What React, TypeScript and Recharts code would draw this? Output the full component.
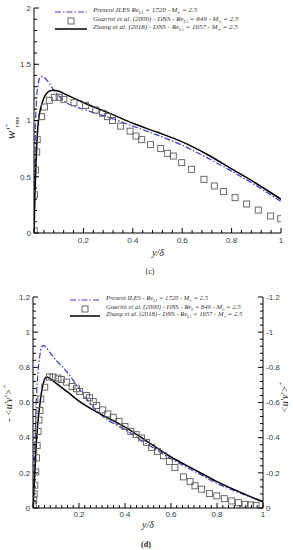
import React from 'react';
import { ComposedChart, Line, Scatter, XAxis, YAxis, Legend } from 'recharts';

// ---------- data: w'+rms (panel c) ----------
const W_ILES: [number, number][] = [
  [0, 0], [0.003, 0.55], [0.006, 0.95], [0.01, 1.18], [0.015, 1.3], [0.02, 1.36], [0.027, 1.39],
  [0.035, 1.39], [0.045, 1.375], [0.055, 1.35], [0.065, 1.32], [0.08, 1.27], [0.1, 1.22],
  [0.13, 1.16], [0.17, 1.12], [0.2, 1.1], [0.27, 1.05], [0.3, 1.03], [0.4, 0.95], [0.5, 0.87],
  [0.6, 0.78], [0.7, 0.67], [0.8, 0.55], [0.9, 0.42], [1.0, 0.28],
];
const W_ZHANG: [number, number][] = [
  [0, 0], [0.004, 0.35], [0.008, 0.62], [0.011, 0.77], [0.017, 0.975], [0.024, 1.08], [0.031, 1.14],
  [0.04, 1.2], [0.051, 1.24], [0.065, 1.265], [0.08, 1.27], [0.1, 1.26], [0.13, 1.23], [0.17, 1.19],
  [0.2, 1.16], [0.27, 1.095], [0.3, 1.07], [0.4, 0.975], [0.5, 0.895], [0.6, 0.81], [0.7, 0.7],
  [0.8, 0.57], [0.9, 0.44], [1.0, 0.3],
];
const W_GUARINI: [number, number][] = [
  [0.001, 0.02], [0.002, 0.34], [0.006, 0.56], [0.011, 0.72], [0.013, 0.83], [0.031, 1.034],
  [0.042, 1.12], [0.062, 1.18], [0.082, 1.206], [0.102, 1.206], [0.121, 1.188], [0.162, 1.158],
  [0.209, 1.135], [0.25, 1.093], [0.278, 1.064], [0.297, 1.034], [0.318, 1.0], [0.351, 0.95],
  [0.389, 0.905], [0.413, 0.862], [0.436, 0.83], [0.472, 0.785], [0.513, 0.75], [0.541, 0.708],
  [0.564, 0.684], [0.598, 0.625], [0.638, 0.566], [0.688, 0.477], [0.73, 0.418], [0.767, 0.368],
  [0.814, 0.314], [0.861, 0.258], [0.908, 0.204], [0.958, 0.151], [0.999, 0.127],
];

// ---------- data: -<u'v'>+ (panel d) ----------
const UV_ILES: [number, number][] = [
  [0, 0], [0.005, 0.2], [0.01, 0.42], [0.014, 0.6], [0.02, 0.74], [0.029, 0.86], [0.036, 0.91],
  [0.045, 0.925], [0.055, 0.915], [0.07, 0.89], [0.085, 0.865], [0.1, 0.84], [0.13, 0.8],
  [0.15, 0.77], [0.2, 0.68], [0.25, 0.59], [0.3, 0.525], [0.4, 0.445], [0.5, 0.36], [0.6, 0.28],
  [0.7, 0.21], [0.8, 0.14], [0.9, 0.085], [1.0, 0.035],
];
const UV_ZHANG: [number, number][] = [
  [0, 0], [0.005, 0.12], [0.01, 0.25], [0.015, 0.38], [0.02, 0.47], [0.029, 0.58], [0.036, 0.65],
  [0.045, 0.71], [0.058, 0.745], [0.07, 0.74], [0.085, 0.725], [0.1, 0.71], [0.15, 0.66],
  [0.2, 0.608], [0.3, 0.53], [0.4, 0.46], [0.5, 0.375], [0.6, 0.29], [0.7, 0.22], [0.8, 0.15],
  [0.9, 0.09], [1.0, 0.035],
];
const UV_GUARINI: [number, number][] = [
  [0.001, 0.02], [0.003, 0.045], [0.005, 0.08], [0.008, 0.13], [0.012, 0.205], [0.015, 0.285],
  [0.018, 0.355], [0.022, 0.435], [0.026, 0.5], [0.03, 0.555], [0.034, 0.62], [0.051, 0.687],
  [0.072, 0.745], [0.087, 0.745], [0.109, 0.739], [0.123, 0.731], [0.145, 0.716], [0.17, 0.691],
  [0.189, 0.678], [0.203, 0.663], [0.232, 0.64], [0.246, 0.627], [0.262, 0.605], [0.277, 0.583],
  [0.303, 0.558], [0.325, 0.535], [0.349, 0.516], [0.374, 0.493], [0.4, 0.463], [0.425, 0.436],
  [0.448, 0.417], [0.472, 0.398], [0.494, 0.373], [0.516, 0.345], [0.541, 0.322], [0.567, 0.297],
  [0.593, 0.265], [0.617, 0.23], [0.654, 0.177], [0.683, 0.15], [0.704, 0.126], [0.733, 0.107],
  [0.767, 0.082], [0.799, 0.069], [0.832, 0.053], [0.864, 0.04], [0.893, 0.03], [0.922, 0.021],
  [0.946, 0.017], [0.97, 0.015],
];

// ---------- ticks ----------
const X_MAJOR = [0.2, 0.4, 0.6, 0.8, 1];
const W_X_TICKS = [0, 0.04, 0.08, 0.12, 0.16, 0.2, 0.24, 0.28, 0.32, 0.36, 0.4, 0.44, 0.48, 0.52, 0.56, 0.6, 0.64, 0.68, 0.72, 0.76, 0.8, 0.84, 0.88, 0.92, 0.96, 1];
const W_Y_MAJOR = [0, 0.5, 1, 1.5, 2];
const W_Y_TICKS = [0, 0.1, 0.2, 0.3, 0.4, 0.5, 0.6, 0.7, 0.8, 0.9, 1, 1.1, 1.2, 1.3, 1.4, 1.5, 1.6, 1.7, 1.8, 1.9, 2];
const UV_X_TICKS = [0, 0.025, 0.05, 0.075, 0.1, 0.125, 0.15, 0.175, 0.2, 0.225, 0.25, 0.275, 0.3, 0.325, 0.35, 0.375, 0.4, 0.425, 0.45, 0.475, 0.5, 0.525, 0.55, 0.575, 0.6, 0.625, 0.65, 0.675, 0.7, 0.725, 0.75, 0.775, 0.8, 0.825, 0.85, 0.875, 0.9, 0.925, 0.95, 0.975, 1];
const UV_Y_MAJOR = [0, 0.2, 0.4, 0.6, 0.8, 1, 1.2];
const UV_Y_TICKS = [0, 0.04, 0.08, 0.12, 0.16, 0.2, 0.24, 0.28, 0.32, 0.36, 0.4, 0.44, 0.48, 0.52, 0.56, 0.6, 0.64, 0.68, 0.72, 0.76, 0.8, 0.84, 0.88, 0.92, 0.96, 1, 1.04, 1.08, 1.12, 1.16, 1.2];

const toPts = (a: [number, number][]) => a.map(([x, y]) => ({ x, y }));

const TICK_FONT = '"Liberation Sans", Arial, sans-serif';
const SERIF = '"Liberation Serif", "Times New Roman", serif';
const TICK_COLOR = '#2e3d48';
const BLUE = '#3b3bcf';
const DASHDOT = '6 2 1.5 2';

const isMajor = (majors: number[], v: number) => majors.some((m) => Math.abs(m - v) < 1e-9);

const leftTick = (majors: number[]) => (p: any) => {
  const v = p.payload.value;
  const mj = isMajor(majors, v);
  return (
    <g>
      <line x1={p.x} x2={p.x + (mj ? 5 : 3)} y1={p.y} y2={p.y} stroke="#000" strokeWidth={1} />
      {mj && (
        <text x={p.x - 3} y={p.y} dy="0.35em" textAnchor="end" fontSize={8} fontFamily={TICK_FONT} fill={TICK_COLOR}>
          {String(v)}
        </text>
      )}
    </g>
  );
};

const rightTick = (majors: number[]) => (p: any) => {
  const v = p.payload.value;
  const mj = isMajor(majors, v);
  return (
    <g>
      <line x1={p.x} x2={p.x - (mj ? 5 : 3)} y1={p.y} y2={p.y} stroke="#000" strokeWidth={1} />
      {mj && (
        <text x={p.x + 3} y={p.y} dy="0.35em" textAnchor="start" fontSize={8} fontFamily={TICK_FONT} fill={TICK_COLOR}>
          {String(-v)}
        </text>
      )}
    </g>
  );
};

const bottomTick = (majors: number[], dy: number) => (p: any) => {
  const v = p.payload.value;
  const mj = isMajor(majors, v);
  const isZero = Math.abs(v) < 1e-9;
  return (
    <g>
      <line x1={p.x} x2={p.x} y1={p.y} y2={p.y - (mj || isZero ? 5 : 3)} stroke="#000" strokeWidth={1} />
      {mj && (
        <text x={p.x} y={p.y + dy} textAnchor="middle" fontSize={8} fontFamily={TICK_FONT} fill={TICK_COLOR}>
          {String(v)}
        </text>
      )}
    </g>
  );
};

const squareShape = (props: any) => (
  <rect x={props.cx - 3} y={props.cy - 3} width={6} height={6} fill="none" stroke="#5a5a5a" strokeWidth={0.9} />
);

type LegendRow = { kind: 'dash' | 'square' | 'solid'; parts: { t: string; sub?: boolean }[] };

const ROWS_C: LegendRow[] = [
  { kind: 'dash', parts: [{ t: 'Present ILES Re' }, { t: 'L1', sub: true }, { t: ' = 1720 - M' }, { t: '∞', sub: true }, { t: ' = 2.5' }] },
  { kind: 'square', parts: [{ t: 'Guarini et al. (2000) - DNS - Re' }, { t: 'L1', sub: true }, { t: ' = 849 - M' }, { t: '∞', sub: true }, { t: ' = 2.5' }] },
  { kind: 'solid', parts: [{ t: 'Zhang et al. (2018) - DNS - Re' }, { t: 'L1', sub: true }, { t: ' = 1657 - M' }, { t: '∞', sub: true }, { t: ' = 2.5' }] },
];
const ROWS_D: LegendRow[] = [
  { kind: 'dash', parts: [{ t: 'Present ILES - Re' }, { t: 'L1', sub: true }, { t: ' = 1720 - M' }, { t: '∞', sub: true }, { t: ' = 2.5' }] },
  { kind: 'square', parts: [{ t: 'Guarini et al. (2000) - DNS - Re' }, { t: 'θ', sub: true }, { t: ' = 849 - M' }, { t: '∞', sub: true }, { t: ' = 2.5' }] },
  { kind: 'solid', parts: [{ t: 'Zhang et al. (2018) - DNS - Re' }, { t: 'L1', sub: true }, { t: ' = 1657 - M' }, { t: '∞', sub: true }, { t: ' = 2.5' }] },
];

const makeLegend = (rows: LegendRow[], ys: number[], x0: number, x1: number, tx: number, fs: number, w: number, h: number) => () => (
  <svg width={w} height={h} style={{ display: 'block' }}>
    {rows.map((r, i) => {
      const y = ys[i];
      const mid = (x0 + x1) / 2;
      return (
        <g key={i}>
          {r.kind === 'dash' && <line x1={x0} x2={x1} y1={y} y2={y} stroke={BLUE} strokeWidth={1.2} strokeDasharray={DASHDOT} />}
          {r.kind === 'solid' && <line x1={x0} x2={x1} y1={y} y2={y} stroke="#000" strokeWidth={1.5} />}
          {r.kind === 'square' && <rect x={mid - 3} y={y - 3} width={6} height={6} fill="none" stroke="#5a5a5a" strokeWidth={0.9} />}
          <text x={tx} y={y} dy="0.3em" fontSize={fs} fontStyle="italic" fontFamily={SERIF} fill="#333">
            {r.parts.map((p, j) =>
              p.sub ? (
                <tspan key={j} fontSize={fs * 0.6} dy={1.5}>{p.t}</tspan>
              ) : (
                <tspan key={j} dy={j === 0 ? 0 : -1.5}>{p.t}</tspan>
              )
            )}
          </text>
        </g>
      );
    })}
  </svg>
);

const LegendC = makeLegend(ROWS_C, [12, 21, 29], 55, 87, 93, 7, 260, 36);
const LegendD = makeLegend(ROWS_D, [25, 34, 41], 70, 100, 106, 6.6, 260, 48);

export default function App() {
  return (
    <div style={{ position: 'absolute', left: 0, top: 0, width: 293, height: 550, background: '#fff' }}>
      {/* panel (c) */}
      <div style={{ position: 'absolute', left: 0, top: 0 }}>
        <ComposedChart width={293} height={275} margin={{ top: 8, right: 12, left: 0, bottom: 22 }}>
          <XAxis
            dataKey="x"
            type="number"
            domain={[0, 1]}
            ticks={W_X_TICKS}
            interval={0}
            allowDataOverflow
            height={20}
            tickSize={0}
            tickMargin={0}
            tickLine={false}
            axisLine={{ stroke: '#000', strokeWidth: 1 }}
            tick={bottomTick(X_MAJOR, 10)}
          />
          <YAxis
            dataKey="y"
            type="number"
            domain={[0, 2]}
            ticks={W_Y_TICKS}
            interval={0}
            allowDataOverflow
            width={34}
            tickSize={0}
            tickMargin={0}
            tickLine={false}
            axisLine={{ stroke: '#000', strokeWidth: 1 }}
            tick={leftTick(W_Y_MAJOR)}
          />
          <Legend layout="horizontal" verticalAlign="middle" align="center" wrapperStyle={{ left: 0, top: 0, width: 260, height: 36 }} content={LegendC} />
          <Scatter name="Guarini et al. (2000)" data={toPts(W_GUARINI)} dataKey="y" shape={squareShape} isAnimationActive={false} />
          <Line name="Present ILES" data={toPts(W_ILES)} dataKey="y" type="monotone" stroke={BLUE} strokeWidth={1.2} strokeDasharray={DASHDOT} dot={false} isAnimationActive={false} />
          <Line name="Zhang et al. (2018)" data={toPts(W_ZHANG)} dataKey="y" type="monotone" stroke="#000" strokeWidth={1.5} dot={false} isAnimationActive={false} />
        </ComposedChart>
      </div>

      {/* panel (d) */}
      <div style={{ position: 'absolute', left: 0, top: 275 }}>
        <ComposedChart width={293} height={275} margin={{ top: 22, right: 0, left: 0, bottom: 22 }}>
          <XAxis
            dataKey="x"
            type="number"
            domain={[0, 1]}
            ticks={UV_X_TICKS}
            interval={0}
            allowDataOverflow
            height={20}
            tickSize={0}
            tickMargin={0}
            tickLine={false}
            axisLine={{ stroke: '#000', strokeWidth: 1 }}
            tick={bottomTick(X_MAJOR, 9)}
          />
          <YAxis
            yAxisId="left"
            dataKey="y"
            type="number"
            domain={[0, 1.2]}
            ticks={UV_Y_TICKS}
            interval={0}
            allowDataOverflow
            width={33}
            tickSize={0}
            tickMargin={0}
            tickLine={false}
            axisLine={{ stroke: '#000', strokeWidth: 1 }}
            tick={leftTick(UV_Y_MAJOR)}
          />
          <YAxis
            yAxisId="right"
            orientation="right"
            type="number"
            domain={[0, 1.2]}
            ticks={UV_Y_TICKS}
            interval={0}
            allowDataOverflow
            width={30}
            tickSize={0}
            tickMargin={0}
            tickLine={false}
            axisLine={{ stroke: '#000', strokeWidth: 1 }}
            tick={rightTick(UV_Y_MAJOR)}
          />
          <Legend layout="horizontal" verticalAlign="middle" align="center" wrapperStyle={{ left: 0, top: 0, width: 260, height: 48 }} content={LegendD} />
          <Scatter yAxisId="left" name="Guarini et al. (2000)" data={toPts(UV_GUARINI)} dataKey="y" shape={squareShape} isAnimationActive={false} />
          <Line yAxisId="left" name="Present ILES" data={toPts(UV_ILES)} dataKey="y" type="monotone" stroke={BLUE} strokeWidth={1.2} strokeDasharray={DASHDOT} dot={false} isAnimationActive={false} />
          <Line yAxisId="left" name="Zhang et al. (2018)" data={toPts(UV_ZHANG)} dataKey="y" type="monotone" stroke="#000" strokeWidth={1.5} dot={false} isAnimationActive={false} />
        </ComposedChart>
      </div>

      {/* axis titles and panel captions */}
      <svg width={293} height={550} style={{ position: 'absolute', left: 0, top: 0, pointerEvents: 'none' }}>
        <text transform="translate(15,128) rotate(-90)" textAnchor="middle" fontFamily={SERIF} fontStyle="italic" fontSize={13} fill="#222">
          w'<tspan fontSize={7} dy={-6}>+</tspan>
          <tspan fontSize={7} dx={-4} dy={10}>rms</tspan>
        </text>
        <text x={158} y={256} textAnchor="middle" fontFamily={SERIF} fontStyle="italic" fontSize={10} fill="#222">y/δ</text>
        <text x={150} y={274} textAnchor="middle" fontFamily={SERIF} fontSize={8} fill="#222">(c)</text>

        <text transform="translate(12,403) rotate(-90)" textAnchor="middle" fontFamily={SERIF} fontStyle="italic" fontSize={10} fill="#222">
          - &lt;u'v'&gt;<tspan fontSize={7} dy={-5}>+</tspan>
        </text>
        <text transform="translate(288,397) rotate(-90)" textAnchor="middle" fontFamily={SERIF} fontStyle="italic" fontSize={10} fill="#222">
          &lt;u'v'&gt;<tspan fontSize={7} dy={-5}>+</tspan>
        </text>
        <text x={148} y={528} textAnchor="middle" fontFamily={SERIF} fontStyle="italic" fontSize={10} fill="#222">y/δ</text>
        <text x={146} y={547} textAnchor="middle" fontFamily={SERIF} fontWeight="bold" fontSize={8} fill="#222">(d)</text>
      </svg>
    </div>
  );
}
